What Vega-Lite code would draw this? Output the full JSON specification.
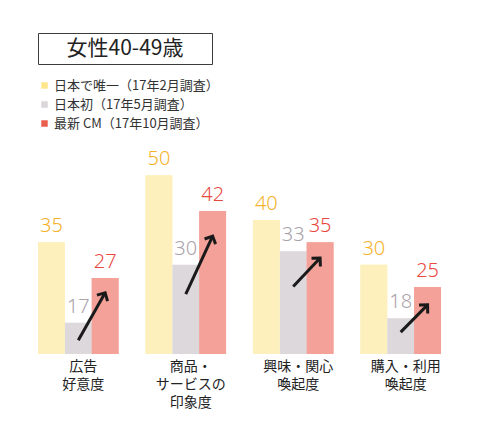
{
  "$schema": "https://vega.github.io/schema/vega-lite/v6.json",
  "background": "#ffffff",
  "padding": {"left": 37, "top": 32, "right": 0, "bottom": 0},
  "bounds": "flush",
  "spacing": 22,
  "config": {"view": {"stroke": null}, "font": "Noto Sans CJK JP"},
  "datasets": {
    "heading": [{"見出し": "女性40-49歳"}],
    "scores": [
      {"項目": "広告\n好意度", "系列": "日本で唯一（17年2月調査）", "値": 35},
      {"項目": "広告\n好意度", "系列": "日本初（17年5月調査）", "値": 17},
      {"項目": "広告\n好意度", "系列": "最新 CM（17年10月調査）", "値": 27},
      {"項目": "商品・\nサービスの\n印象度", "系列": "日本で唯一（17年2月調査）", "値": 50},
      {"項目": "商品・\nサービスの\n印象度", "系列": "日本初（17年5月調査）", "値": 30},
      {"項目": "商品・\nサービスの\n印象度", "系列": "最新 CM（17年10月調査）", "値": 42},
      {"項目": "興味・関心\n喚起度", "系列": "日本で唯一（17年2月調査）", "値": 40},
      {"項目": "興味・関心\n喚起度", "系列": "日本初（17年5月調査）", "値": 33},
      {"項目": "興味・関心\n喚起度", "系列": "最新 CM（17年10月調査）", "値": 35},
      {"項目": "購入・利用\n喚起度", "系列": "日本で唯一（17年2月調査）", "値": 30},
      {"項目": "購入・利用\n喚起度", "系列": "日本初（17年5月調査）", "値": 18},
      {"項目": "購入・利用\n喚起度", "系列": "最新 CM（17年10月調査）", "値": 25}
    ],
    "arrows": [
      {"項目": "広告\n好意度", "系列": "日本初（17年5月調査）", "値": 13.1},
      {"項目": "広告\n好意度", "系列": "最新 CM（17年10月調査）", "値": 23.7},
      {"項目": "商品・\nサービスの\n印象度", "系列": "日本初（17年5月調査）", "値": 23.4},
      {"項目": "商品・\nサービスの\n印象度", "系列": "最新 CM（17年10月調査）", "値": 36.4},
      {"項目": "興味・関心\n喚起度", "系列": "日本初（17年5月調査）", "値": 25.1},
      {"項目": "興味・関心\n喚起度", "系列": "最新 CM（17年10月調査）", "値": 31.5},
      {"項目": "購入・利用\n喚起度", "系列": "日本初（17年5月調査）", "値": 14.9},
      {"項目": "購入・利用\n喚起度", "系列": "最新 CM（17年10月調査）", "値": 21}
    ]
  },
  "vconcat": [
    {
      "width": 174,
      "height": 31,
      "view": {"stroke": "#3c3c3c", "strokeWidth": 1},
      "data": {"name": "heading"},
      "mark": {"type": "text", "fontSize": 21, "color": "#222222"},
      "encoding": {"text": {"field": "見出し"}}
    },
    {
      "width": 403,
      "height": 268,
      "data": {"name": "scores"},
      "encoding": {
        "x": {
          "field": "項目",
          "type": "nominal",
          "sort": null,
          "scale": {"paddingInner": 0.25, "paddingOuter": 0},
          "axis": {
            "title": null,
            "domain": false,
            "ticks": false,
            "labelAngle": 0,
            "labelFontSize": 14,
            "labelColor": "#222222",
            "labelPadding": 5,
            "labelLineHeight": 18,
            "labelOffset": 5,
            "labelLimit": 0,
            "labelExpr": "split(datum.label, '\\n')"
          }
        },
        "xOffset": {
          "field": "系列",
          "type": "nominal",
          "scale": {
            "domain": ["日本で唯一（17年2月調査）", "日本初（17年5月調査）", "最新 CM（17年10月調査）"],
            "paddingInner": 0,
            "paddingOuter": 0
          }
        },
        "y": {
          "field": "値",
          "type": "quantitative",
          "scale": {"domain": [10, 70], "zero": false, "nice": false},
          "axis": null
        }
      },
      "layer": [
        {
          "mark": {"type": "bar"},
          "encoding": {
            "y2": {"datum": 10},
            "color": {
              "field": "系列",
              "type": "nominal",
              "scale": {
                "domain": ["日本で唯一（17年2月調査）", "日本初（17年5月調査）", "最新 CM（17年10月調査）"],
                "range": ["#fde68c", "#d9d5d9", "#ea5e50"]
              },
              "legend": {
                "title": null,
                "orient": "none",
                "legendX": 0,
                "legendY": 46,
                "padding": 0,
                "symbolType": "square",
                "symbolSize": 42,
                "symbolStrokeWidth": 0,
                "symbolOpacity": 1,
                "rowPadding": 5,
                "labelOffset": 3,
                "labelFontSize": 13,
                "labelColor": "#333333",
                "labelLimit": 0
              }
            }
          }
        },
        {
          "mark": {"type": "bar", "color": "#ffffff"},
          "encoding": {
            "y2": {"datum": 10},
            "opacity": {
              "condition": [
                {"test": "datum['系列'] === '日本初（17年5月調査）'", "value": 0.08}
              ],
              "value": 0.42
            }
          }
        },
        {
          "mark": {"type": "text", "fontSize": 20, "font": "Noto Sans", "fontWeight": 300, "baseline": "alphabetic", "align": "center", "dy": -10},
          "encoding": {
            "text": {"field": "値", "type": "quantitative"},
            "fill": {
              "condition": [
                {"test": "datum['系列'] === '日本初（17年5月調査）'", "value": "#aaa2aa"},
                {"test": "datum['系列'] === '最新 CM（17年10月調査）'", "value": "#e8493f"}
              ],
              "value": "#f5b22c"
            }
          }
        },
        {
          "data": {"name": "arrows"},
          "mark": {"type": "line", "color": "#1a1a1a", "strokeWidth": 3},
          "encoding": {"detail": {"field": "項目"}}
        },
        {
          "data": {"name": "arrows"},
          "transform": [{"filter": "datum['系列'] === '最新 CM（17年10月調査）'"}],
          "mark": {"type": "point", "shape": "M -0.7 0.7 L 0 0 L 0.7 0.7", "filled": false, "stroke": "#1a1a1a", "strokeWidth": 3, "size": 300, "opacity": 1},
          "encoding": {
            "angle": {
              "condition": [
                {"test": "datum['項目'] === '広告\\n好意度'", "value": 29},
                {"test": "datum['項目'] === '商品・\\nサービスの\\n印象度'", "value": 25},
                {"test": "datum['項目'] === '興味・関心\\n喚起度'", "value": 43}
              ],
              "value": 44
            }
          }
        }
      ]
    }
  ]
}
